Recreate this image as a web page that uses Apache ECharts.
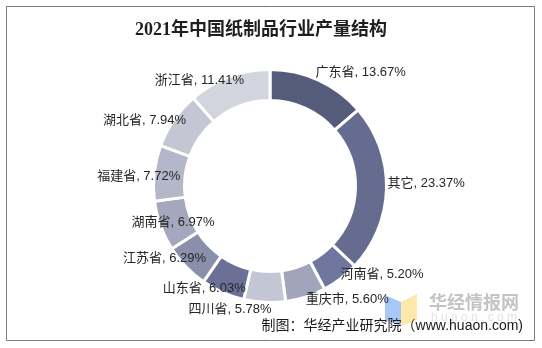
<!DOCTYPE html>
<html>
<head>
<meta charset="utf-8">
<script src="https://cdn.jsdelivr.net/npm/echarts@6/dist/echarts.min.js"></script>
<style>
  html, body { margin: 0; padding: 0; background: #ffffff; }
  #chart { width: 542px; height: 348px; }
</style>
</head>
<body>
<div id="chart"></div>
<script>
// 2021 paper-products output share by region (%)
const regions = ['广东省', '其它', '河南省', '重庆市', '四川省', '山东省', '江苏省', '湖南省', '福建省', '湖北省', '浙江省'];
const shares = [13.67, 23.37, 5.20, 5.60, 5.78, 6.03, 6.29, 6.97, 7.72, 7.94, 11.41];

// slice fills, in the same order as the regions
const sliceColors = ['#555b7a', '#656c8f', '#6f77a0', '#a1a4ba', '#c3c6d5', '#6a7096', '#8a8fac', '#a4a7be', '#b4b7c9', '#c4c6d4', '#d2d4de'];

// small hand nudges for the data labels (px)
const labelNudge = [[-3, -8], [1, -5], [0, -4], [0, 3], [7, 7], [23, -4], [20, -8], [54, -3], [26, 3], [12, 1], [15, 4]];

const chart = echarts.init(document.getElementById('chart'), null, { renderer: 'canvas' });

const labelFont = "'Liberation Sans', 'Noto Sans CJK SC', sans-serif";

chart.setOption({
  backgroundColor: '#ffffff',
  animation: false,
  graphic: [
    {
      type: 'rect',
      shape: { x: 6.5, y: 6.5, width: 528, height: 334 },
      style: { fill: null, stroke: '#7a7a7a', lineWidth: 1 },
      silent: true
    },
    {
      type: 'text',
      x: 261, y: 30,
      style: {
        text: '2021年中国纸制品行业产量结构',
        fill: '#1f1f1f',
        font: "bold 18px 'Liberation Serif', 'Noto Sans CJK SC', serif",
        textAlign: 'center',
        textVerticalAlign: 'middle'
      }
    },
    // watermark logo
    {
      type: 'polygon',
      shape: { points: [[385, 295], [401, 302], [401, 326], [385, 320]] },
      style: { fill: '#a7c7f6' },
      silent: true
    },
    {
      type: 'polygon',
      shape: { points: [[401, 302], [417, 294], [417, 320], [401, 326]] },
      style: { fill: '#fce8a8' },
      silent: true
    },
    {
      type: 'text',
      x: 474, y: 302,
      style: {
        text: '华经情报网',
        fill: '#c4c4c4',
        font: "bold 18px 'Noto Sans CJK SC', sans-serif",
        textAlign: 'center',
        textVerticalAlign: 'middle'
      },
      silent: true
    },
    {
      type: 'text',
      x: 474, y: 318,
      style: {
        text: 'h u a o n . c o m',
        fill: '#e2e2e2',
        font: "12px 'Liberation Sans', sans-serif",
        textAlign: 'center',
        textVerticalAlign: 'middle'
      },
      silent: true
    },
    {
      type: 'text',
      x: 523, y: 326,
      z: 10,
      style: {
        text: '制图：华经产业研究院（www.huaon.com)',
        fill: '#1a1a1a',
        font: "14px 'Liberation Sans', 'Noto Sans CJK SC', sans-serif",
        textAlign: 'right',
        textVerticalAlign: 'middle'
      }
    }
  ],
  series: [{
    type: 'pie',
    center: [270, 186],
    radius: [85.5, 116.5],
    startAngle: 90,
    clockwise: true,
    avoidLabelOverlap: false,
    data: regions.map((name, i) => ({ name, value: shares[i], itemStyle: { color: sliceColors[i] } })),
    itemStyle: { borderColor: '#ffffff', borderWidth: 3 },
    label: {
      show: true,
      position: 'outside',
      distanceToLabelLine: 0,
      color: '#262626',
      fontSize: 13,
      fontFamily: labelFont,
      formatter: p => p.name + ', ' + p.value.toFixed(2) + '%'
    },
    labelLine: { show: false, length: 0, length2: 0 },
    labelLayout: params => {
      const n = labelNudge[params.dataIndex];
      return { dx: n[0], dy: n[1] };
    },
    emphasis: { disabled: true }
  }]
});
</script>
</body>
</html>
